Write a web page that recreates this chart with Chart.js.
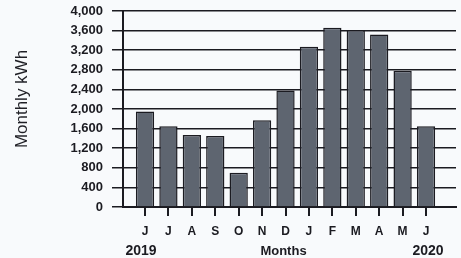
<!DOCTYPE html>
<html>
<head>
<meta charset="utf-8">
<script src="https://cdn.jsdelivr.net/npm/chart.js@4.4.1/dist/chart.umd.min.js"></script>
<style>
    html, body { margin: 0; padding: 0; background: #f8fafc; }
    #wrap { width: 461px; height: 258px; }
</style>
</head>
<body>
<div id="wrap"><canvas id="kwhChart" width="461" height="258"></canvas></div>
<script>
// --- DATA ---
const months = ['J', 'J', 'A', 'S', 'O', 'N', 'D', 'J', 'F', 'M', 'A', 'M', 'J'];
const monthlyKwh = [1950, 1650, 1470, 1450, 700, 1770, 2380, 3270, 3660, 3610, 3520, 2780, 1650];
const yMin = 0, yMax = 4000, yStep = 400;
const startYear = '2019';
const endYear = '2020';
const xTitle = 'Months';
const yTitle = 'Monthly kWh';

const ink = '#1b1b21';

// years + axis titles, placed from the scales
const labelPlugin = {
    id: 'extraLabels',
    afterDraw(chart) {
        const ctx = chart.ctx;
        const x = chart.scales.x;
        ctx.save();
        ctx.fillStyle = ink;
        ctx.textAlign = 'center';
        ctx.textBaseline = 'middle';
        ctx.font = 'bold 14px "Liberation Sans", Arial, sans-serif';
        ctx.fillText(startYear, x.getPixelForValue(0) - 4, 251);
        ctx.fillText(endYear, x.getPixelForValue(months.length - 1) + 2, 251);
        ctx.font = 'bold 13px "Liberation Sans", Arial, sans-serif';
        ctx.fillText(xTitle, x.getPixelForValue(6) - 2, 251);

        ctx.translate(22, 99);
        ctx.rotate(-Math.PI / 2);
        ctx.font = '17px "Liberation Sans", Arial, sans-serif';
        ctx.fillStyle = '#1f1f25';
        ctx.fillText(yTitle, 0, 0);
        ctx.restore();
    }
};

const ctx = document.getElementById('kwhChart').getContext('2d');
new Chart(ctx, {
    type: 'bar',
    data: {
        datasets: [{
            data: months.map((m, i) => ({ x: i, y: monthlyKwh[i] })),
            backgroundColor: '#5e6570',
            borderColor: ink,
            borderWidth: 1.5,
            barPercentage: 0.78,
            categoryPercentage: 1
        }]
    },
    options: {
        responsive: false,
        animation: false,
        layout: { padding: { top: 11, right: 5, left: 0, bottom: 0 } },
        plugins: { legend: { display: false }, tooltip: { enabled: false } },
        scales: {
            x: {
                type: 'linear',
                offset: false,
                min: -0.94,
                max: 13.28,
                afterBuildTicks: s => { s.ticks = months.map((m, i) => ({ value: i })); },
                afterFit: s => { s.height = 51; s.paddingLeft = 0; s.paddingRight = 0; },
                ticks: {
                    autoSkip: false,
                    callback: v => months[v],
                    color: ink,
                    font: { family: '"Liberation Sans", Arial, sans-serif', size: 12, weight: 'bold' },
                    padding: 8,
                    maxRotation: 0
                },
                grid: { offset: false, drawOnChartArea: false, drawTicks: true, tickLength: 9, color: ink, lineWidth: 2 },
                border: { display: true, color: ink, width: 2 }
            },
            y: {
                min: yMin,
                max: yMax,
                afterFit: s => { s.width = 123; s.paddingTop = 0; s.paddingBottom = 0; },
                ticks: {
                    stepSize: yStep,
                    color: ink,
                    font: { family: '"Liberation Sans", Arial, sans-serif', size: 13, weight: 'bold' },
                    padding: 9
                },
                grid: { color: ink, lineWidth: 1.5, tickLength: 11 },
                border: { display: true, color: ink, width: 2 }
            }
        }
    },
    plugins: [labelPlugin]
});
</script>
</body>
</html>
